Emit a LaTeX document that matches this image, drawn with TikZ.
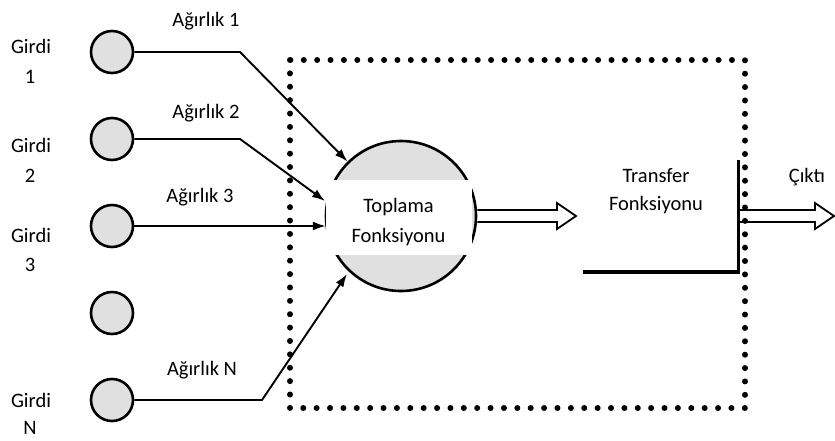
\documentclass[tikz,border=0pt]{standalone}
\usepackage{fontspec}
\setmainfont{Carlito}
\usetikzlibrary{arrows.meta}
\definecolor{cfill}{RGB}{224,224,224}
\begin{document}
\begin{tikzpicture}[x=1pt,y=-1pt,
  inp/.style={circle,draw,line width=2.6pt,fill=cfill,minimum size=42pt,inner sep=0pt},
  lbl/.style={font=\fontsize{20.5}{24}\selectfont,inner sep=0pt,anchor=base},
  wire/.style={line width=1.9pt},
  arr/.style={wire,-{Latex[length=13pt,width=9pt]}},
  blockarrow/.style={line width=1.8pt,line join=miter},
  dotted box/.style={line width=6pt,line cap=round,dash pattern=on 0pt off 13.38pt}]
\useasboundingbox (0,0) rectangle (835,440);

% dotted frame
\draw[dotted box] (290,60) rectangle (745,408);

% input neurons
\node[inp] (in1) at (112,52) {};
\node[inp] (in2) at (112,139) {};
\node[inp] (in3) at (112,226) {};
\node[inp] (in4) at (112,313) {};
\node[inp] (inN) at (112,400) {};

% input labels
\node[lbl] (g1a) at (31,53) {Girdi};
\node[lbl] (g1b) at (30,83) {1};
\node[lbl] (g2a) at (31,152) {Girdi};
\node[lbl] (g2b) at (30,182) {2};
\node[lbl] (g3a) at (31,242) {Girdi};
\node[lbl] (g3b) at (30,271) {3};
\node[lbl] (gNa) at (31,407) {Girdi};
\node[lbl] (gNb) at (30,434) {N};

% weight labels
\node[lbl] (w1) at (206,26) {Ağırlık 1};
\node[lbl] (w2) at (206,118) {Ağırlık 2};
\node[lbl] (w3) at (200,202) {Ağırlık 3};
\node[lbl] (wN) at (202,375) {Ağırlık N};

% summation
\node[circle,draw,line width=2.6pt,fill=cfill,minimum size=150pt,inner sep=0pt] (sum) at (401,216) {};
\node[rectangle,fill=white,minimum width=146pt,minimum height=75pt,inner sep=0pt] (tb) at (399,217.5) {};
\node[lbl] (s1) at (398.5,212) {Toplama};
\node[lbl] (s2) at (398.5,242) {Fonksiyonu};

% weighted connectors
\coordinate (b1) at (240,52);
\coordinate (b2) at (240,139);
\coordinate (t2) at (325,201);
\coordinate (bN) at (262,400);
\coordinate (tN) at (347,274);
\draw[arr] (in1.east) -- (b1) -- (sum);
\draw[arr] (in2.east) -- (b2) -- (t2);
\draw[arr] (in3.east) -- (in3.east -| tb.west);
\draw[arr] (inN.east) -- (bN) -- (tN);

% transfer function
\coordinate (st0) at (583,272);
\coordinate (st1) at (738,272);
\coordinate (st2) at (738,160);
\draw[line width=3.6pt] (st0) -- (st1);
\draw[line width=3pt] (st1) -- ([yshift=-1.8pt]st1) -- (st2);
\node[lbl] (t1) at (656,182) {Transfer};
\node[lbl] (t2l) at (656,210) {Fonksiyonu};
\node[lbl] (out) at (807,182) {Çıktı};

% open block arrows
\draw[blockarrow] ([yshift=6pt]sum.east) -- (557,210) -- (557,203) -- (576,216)
  -- (557,229) -- (557,222) -- ([yshift=-6pt]sum.east);
\draw[blockarrow] (st2 |- 0,210) -- (815,210) -- (815,203) -- (834,216)
  -- (815,229) -- (815,222) -- (st2 |- 0,222);
\end{tikzpicture}
\end{document}
